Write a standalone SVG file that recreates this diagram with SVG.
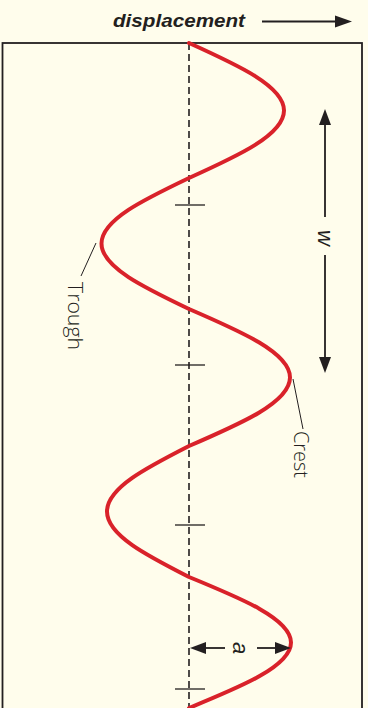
<svg xmlns="http://www.w3.org/2000/svg" width="368" height="708" viewBox="0 0 368 708">
<style>
.ink{stroke:#231f20;fill:none}
.head{fill:#231f20;stroke:none}
.lbl{font-family:"Open Sans","Liberation Sans",sans-serif;font-weight:300;font-size:21px;fill:#231f20}
.var{font-family:"Liberation Sans",sans-serif;font-style:italic;font-size:22px;fill:#231f20}
.wave{stroke:#d9222a;stroke-width:4;fill:none;stroke-linecap:round}
</style>
<rect x="0" y="0" width="368" height="708" fill="#fffdec"/>
<g id="frame">
<rect class="ink" x="2.5" y="43" width="359.5" height="700" stroke-width="1.8"/>
</g>
<g id="title">
<text x="113" y="27" font-family="Liberation Sans,sans-serif" font-weight="bold" font-style="italic" font-size="19" fill="#231f20" textLength="132" lengthAdjust="spacingAndGlyphs">displacement</text>
</g>
<g id="axis">
<line class="ink" x1="189" y1="43" x2="189" y2="708" stroke-width="1.6" stroke-dasharray="7,4"/>
<g class="ink" stroke-width="1.3">
<line x1="175" y1="205" x2="205" y2="205"/>
<line x1="175" y1="365" x2="205" y2="365"/>
<line x1="175" y1="525" x2="205" y2="525"/>
<line x1="175" y1="689" x2="205" y2="689"/>
</g>
</g>
<g id="wave">
<path class="wave" d="M189,43 C237.7,65 284,86.1 284,110.5 C284,134.9 237.7,156 189,178 C144.2,199.4 101.5,219.8 101.5,243.5 C101.5,267.2 144.2,287.6 189,309 C240.7,331.3 290,352.7 290,377.5 C290,402.3 240.7,423.7 189,446 C147,467.4 107,487.8 107,511.5 C107,535.2 147,555.6 189,577 C241.3,598.4 291,618.8 291,642.5 C291,666.2 241.3,686.6 189,708"/>
</g>
<g id="connectors">
<line class="ink" x1="262" y1="21.5" x2="337" y2="21.5" stroke-width="1.8"/>
<polygon class="head" points="352,21.5 335,15.5 335,27.5"/>
<line class="ink" x1="325" y1="122" x2="325" y2="217" stroke-width="1.8"/>
<polygon class="head" points="325,109 319,125 331,125"/>
<line class="ink" x1="325" y1="255" x2="325" y2="360" stroke-width="1.8"/>
<polygon class="head" points="325,373 319,357 331,357"/>
<line class="ink" x1="203" y1="648" x2="225" y2="648" stroke-width="1.8"/>
<polygon class="head" points="190,648 206,642 206,654"/>
<line class="ink" x1="257" y1="648" x2="278" y2="648" stroke-width="1.8"/>
<polygon class="head" points="291,648 275,642 275,654"/>
<line class="ink" x1="96" y1="243" x2="81" y2="276" stroke-width="1"/>
<line class="ink" x1="293" y1="379" x2="303" y2="429" stroke-width="1"/>
</g>
<g id="trough-label">
<text class="lbl" transform="translate(68,282) rotate(90)" textLength="68" lengthAdjust="spacingAndGlyphs">Trough</text>
</g>
<g id="crest-label">
<text class="lbl" transform="translate(294,431) rotate(90)" textLength="47" lengthAdjust="spacingAndGlyphs">Crest</text>
</g>
<g id="w-label">
<text class="var" transform="translate(318,238) rotate(90)" text-anchor="middle">w</text>
</g>
<g id="a-label">
<text class="var" transform="translate(233,648) rotate(90)" text-anchor="middle">a</text>
</g>
</svg>
